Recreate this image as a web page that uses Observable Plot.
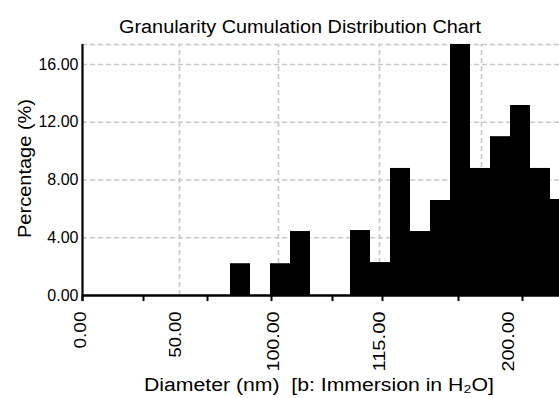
<!DOCTYPE html>
<html>
<head>
<meta charset="utf-8">
<script src="https://cdn.jsdelivr.net/npm/d3@7"></script>
<script src="https://cdn.jsdelivr.net/npm/@observablehq/plot@0.6"></script>
<style>
  html, body { margin: 0; padding: 0; background: #fff; }
  svg { font-family: "Liberation Sans", Arial, sans-serif; }
</style>
</head>
<body>
<div id="chart"></div>
<script>
// ---- data ----
const title = "Granularity Cumulation Distribution Chart";
const yLabel = "Percentage (%)";
const xLabel = "Diameter (nm)  [b: Immersion in H₂O]";
// bin index (each bar spans [bin, bin+1]) and its percentage
const bins = [0, 1, 2, 3, 4, 5, 6, 7, 8, 9, 10, 11, 12, 13, 14, 15, 16];
const percents = [2.2, 0, 2.2, 4.43, 0, 0, 4.5, 2.28, 8.8, 4.43, 6.58, 17.45, 8.8, 11.0, 13.16, 8.8, 6.65];
// x axis (in bin units)
const xDomain = [-7.4, 16.45];
const xTickMarks = [-7.4, -4.35, -1.15, 2.05, 5.1, 7.6, 11.4, 14.6];
const xTickLabelPos = [-7.25, -2.5, 2.4, 7.7, 14.15];
const xTickLabels = ["0.00", "50.00", "100.00", "115.00", "200.00"];
const xGrid = [-2.55, 2.4, 7.45, 12.55];
// y axis
const yDomain = [0, 17.385];
const yTicks = [0, 4, 8, 12, 16];
const yTickLabels = ["0.00", "4.00", "8.00", "12.00", "16.00"];

const data = bins.map((b, i) => ({bin: b, pct: percents[i]}));
const xLabelData = xTickLabelPos.map((p, i) => ({x: p, label: xTickLabels[i]}));
const yLabelData = yTicks.map((t, i) => ({y: t, label: yTickLabels[i]}));

const gridStyle = {stroke: "#c8c8c8", strokeWidth: 1.6, strokeDasharray: "5,3"};
const tickLen = -0.42; // tick extent below the baseline, in y units

const chart = Plot.plot({
  width: 559,
  height: 398,
  marginLeft: 82,
  marginRight: 0,
  marginTop: 44,
  marginBottom: 103,
  style: {fontFamily: "'Liberation Sans', Arial, sans-serif", background: "#fff", overflow: "visible"},
  x: {type: "linear", domain: xDomain, axis: null},
  y: {type: "linear", domain: yDomain, axis: null},
  marks: [
    // grid
    Plot.ruleY([...yTicks.slice(1), yDomain[1]], {x1: xDomain[0], x2: xDomain[1], ...gridStyle}),
    Plot.ruleX(xGrid, {y1: 0, y2: yDomain[1], ...gridStyle}),
    // bars
    Plot.rectY(data, {x1: "bin", x2: d => d.bin + 1, y1: 0, y2: "pct", fill: "#000", clip: true}),
    // axes lines
    Plot.ruleX([xDomain[0]], {y1: tickLen, y2: yDomain[1], stroke: "#000", strokeWidth: 2.2}),
    Plot.ruleY([0], {x1: xDomain[0], x2: xDomain[1], stroke: "#000", strokeWidth: 2.5}),
    // x tick marks
    Plot.ruleX(xTickMarks, {y1: 0, y2: tickLen, stroke: "#000", strokeWidth: 2}),
    // y tick labels
    Plot.text(yLabelData, {x: xDomain[0], y: "y", text: "label", textAnchor: "end", dx: -4, fontSize: 16, fill: "#000"}),
    // x tick labels (rotated)
    Plot.text(xLabelData, {x: "x", frameAnchor: "bottom", text: "label", rotate: -90, textAnchor: "end", dy: 16, fontSize: 16, fill: "#000"}),
    // title
    Plot.text([title], {frameAnchor: "top", dx: -21, dy: -24, fontSize: 18, fill: "#000"}),
    // axis labels
    Plot.text([yLabel], {frameAnchor: "left", rotate: -90, textAnchor: "start", dx: -57, dy: 68, fontSize: 18, fill: "#000"}),
    Plot.text([xLabel], {frameAnchor: "bottom", dx: -2, dy: 95, fontSize: 18, fill: "#000"})
  ]
});
document.getElementById("chart").appendChild(chart);

// the reference's text is drawn slightly stretched along its reading direction
const stretched = {
  [title]: 362, [yLabel]: 139, [xLabel]: 350,
  "0.00": 37, "50.00": 46, "100.00": 60, "115.00": 60, "200.00": 60
};
d3.select(chart).selectAll("text").each(function () {
  const t = this.textContent;
  const rotated = (this.getAttribute("transform") || "").includes("rotate");
  if (stretched[t] && (t !== "0.00" || rotated)) {
    this.setAttribute("textLength", stretched[t]);
    this.setAttribute("lengthAdjust", "spacingAndGlyphs");
  }
});
</script>
</body>
</html>
